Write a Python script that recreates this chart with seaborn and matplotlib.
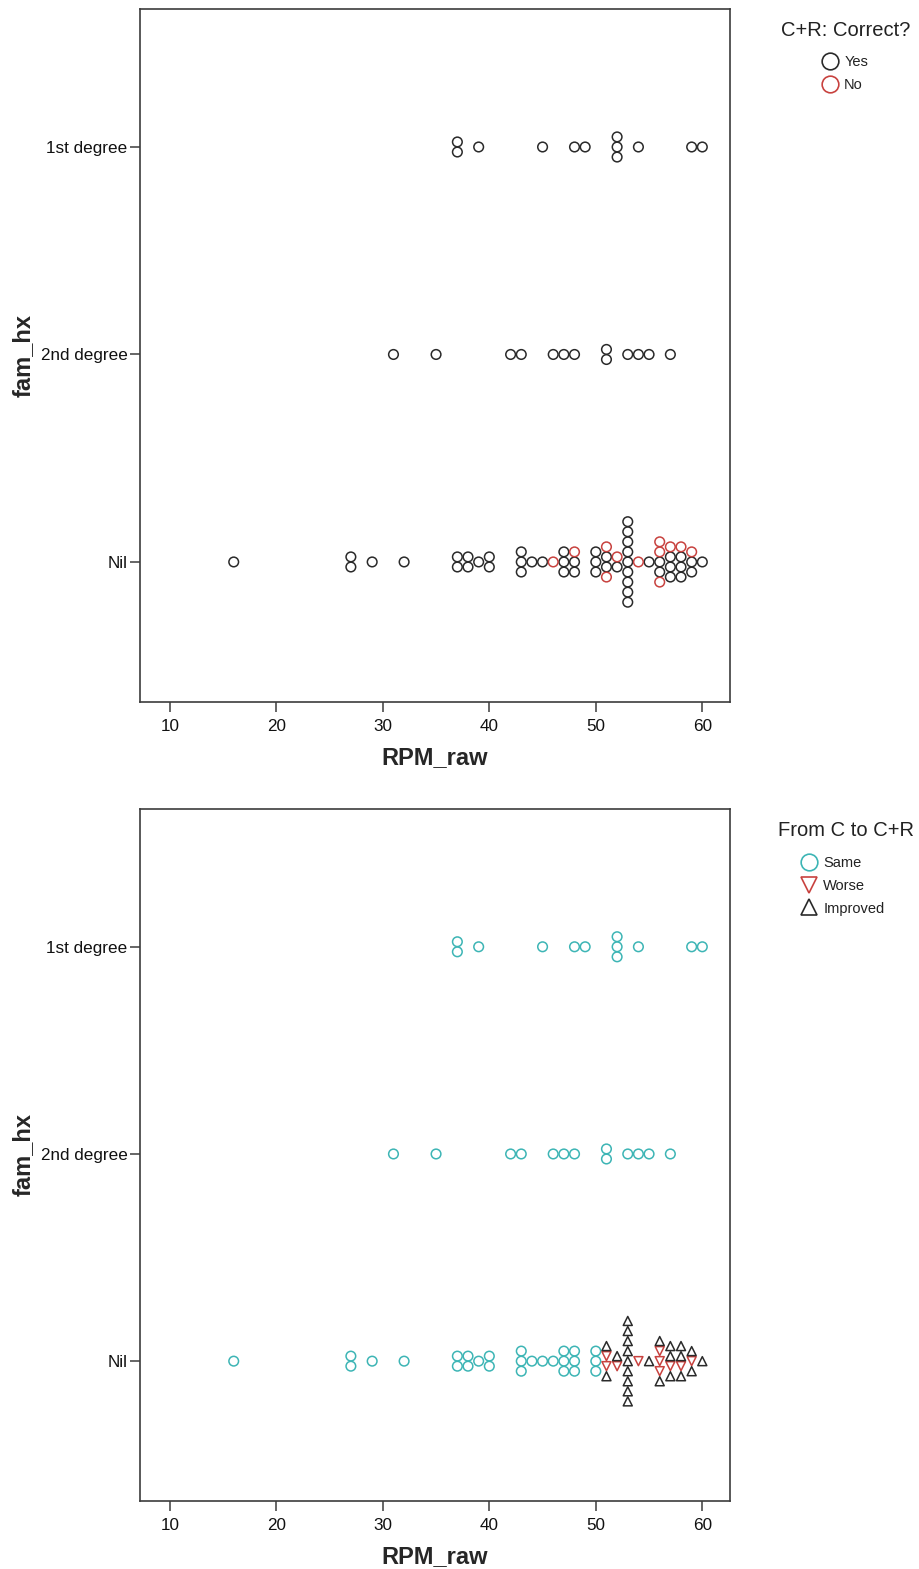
import numpy as np
import pandas as pd
import matplotlib
matplotlib.use("Agg")
import matplotlib.pyplot as plt
import seaborn as sns
from matplotlib.lines import Line2D

# ---- data -------------------------------------------------------------
categories = ["1st degree", "2nd degree", "Nil"]
x_ticks = [10, 20, 30, 40, 50, 60]

first_rpm = [37, 37, 39, 45, 48, 49, 52, 52, 52, 54, 59, 60]
second_rpm = [31, 35, 42, 43, 46, 47, 48, 51, 51, 53, 54, 55, 57]
nil_rpm = [16, 27, 27, 29, 32, 37, 37, 38, 38, 39, 40, 40, 43, 43, 43, 44,
           45, 46, 47, 47, 47, 48, 48, 48, 50, 50, 50, 51, 51, 51, 51, 52,
           52, 53, 53, 53, 53, 53, 53, 53, 53, 53, 54, 55, 56, 56, 56, 56,
           56, 57, 57, 57, 57, 58, 58, 58, 58, 59, 59, 59, 60]
nil_correct = ["Yes"] * 17 + ["No"] + ["Yes"] * 3 + ["Yes", "Yes", "No"] \
    + ["Yes"] * 3 + ["Yes", "Yes", "No", "No"] + ["Yes", "No"] + ["Yes"] * 9 \
    + ["No", "Yes"] + ["Yes", "Yes", "No", "No", "No"] \
    + ["Yes", "Yes", "Yes", "No"] + ["Yes", "Yes", "Yes", "No"] \
    + ["Yes", "Yes", "No"] + ["Yes"]
nil_change = ["Same"] * 27 + ["Improved", "Improved", "Worse", "Worse"] \
    + ["Improved", "Worse"] + ["Improved"] * 9 + ["Worse", "Improved"] \
    + ["Improved", "Improved", "Worse", "Worse", "Worse"] \
    + ["Improved", "Improved", "Improved", "Worse"] \
    + ["Improved", "Improved", "Improved", "Worse"] \
    + ["Improved", "Improved", "Worse"] + ["Improved"]

correct_levels = ["Yes", "No"]
change_levels = ["Same", "Worse", "Improved"]

df = pd.concat([
    pd.DataFrame({"fam_hx": "1st degree", "RPM_raw": first_rpm,
                  "correct": "Yes", "change": "Same"}),
    pd.DataFrame({"fam_hx": "2nd degree", "RPM_raw": second_rpm,
                  "correct": "Yes", "change": "Same"}),
    pd.DataFrame({"fam_hx": "Nil", "RPM_raw": nil_rpm,
                  "correct": nil_correct, "change": nil_change}),
], ignore_index=True)

# ---- stacked dot positions ---------------------------------------------
STEP = 0.0485  # vertical spacing between stacked dots (category units)


def stacked_y(frame, hue, order):
    rank = frame[hue].map({k: i for i, k in enumerate(order)})
    cat_pos = frame["fam_hx"].map({c: i for i, c in enumerate(categories)})
    y = np.zeros(len(frame))
    for _, idx in frame.groupby(["fam_hx", "RPM_raw"]).groups.items():
        ordered = rank.loc[idx].sort_values(kind="stable").index
        n = len(ordered)
        slots, k = ([0.0], 1.0) if n % 2 else ([], 0.5)
        while len(slots) < n:
            slots += [k, -k]
            k += 1
        for i, row in enumerate(ordered):
            y[frame.index.get_loc(row)] = cat_pos[row] + slots[i] * STEP
    return y


df["y_correct"] = stacked_y(df, "correct", correct_levels)
df["y_change"] = stacked_y(df, "change", change_levels)

# ---- style ---------------------------------------------------------------
sns.set_style("white")
plt.rcParams["font.family"] = ["Liberation Sans", "DejaVu Sans"]

BLACK = "#2a2a2a"
RED = "#c8423f"
TEAL = "#3db5b5"
SPINE = "#3c3c3c"

W, H = 920, 1569
fig = plt.figure(figsize=(W / 100, H / 100), dpi=100)


def make_axes(top, bottom, left=140, right=730):
    return fig.add_axes([left / W, 1 - bottom / H, (right - left) / W,
                         (bottom - top) / H])


ax1 = make_axes(9, 702)
ax2 = make_axes(809, 1501)

# (axes, y column, hue column, levels, legend title, title y, entries x, entries y)
panels = [
    (ax1, "y_correct", "correct",
     [("Yes", BLACK, "o"), ("No", RED, "o")], "C+R: Correct?", 30, 823, 55),
    (ax2, "y_change", "change",
     [("Same", TEAL, "o"), ("Worse", RED, "v"), ("Improved", BLACK, "^")],
     "From C to C+R", 830, 802, 856),
]

for ax, ycol, hue, levels, title, title_y, leg_x, leg_y in panels:
    for level, color, marker in levels:
        sub = df[df[hue] == level]
        size = 48 if marker == "o" else 42
        sns.scatterplot(data=sub, x="RPM_raw", y=ycol, ax=ax, color=color,
                        marker=marker, s=size, facecolors="none",
                        edgecolor=color, linewidth=1.1, legend=False,
                        zorder=3)
    ax.set_xlim(7.2, 62.6)
    ax.set_ylim(2.675, -0.665)
    ax.set_xticks(x_ticks)
    ax.set_yticks(range(len(categories)))
    ax.set_yticklabels(categories)
    ax.set_xlabel("RPM_raw", fontsize=17, fontweight="bold", labelpad=9)
    ax.set_ylabel("fam_hx", fontsize=17, fontweight="bold")
    ax.yaxis.set_label_coords(-0.178, 0.5)
    ax.tick_params(axis="both", which="major", length=7, width=1.1,
                   color=SPINE, labelsize=12.3, labelcolor="#111111",
                   direction="out", bottom=True, left=True)
    ax.tick_params(axis="x", pad=5)
    ax.tick_params(axis="y", pad=2)
    for sp in ax.spines.values():
        sp.set_visible(True)
        sp.set_color(SPINE)
        sp.set_linewidth(1.2)

    # legend: title drawn as text, entries stacked beneath it
    fig.text(846 / W, 1 - title_y / H, title, ha="center", va="center",
             fontsize=14.5, color="#222222")
    handles = [Line2D([], [], linestyle="none", marker=m, markersize=12,
                      markerfacecolor="none", markeredgecolor=c,
                      markeredgewidth=1.2) for _, c, m in levels]
    labels = [lv for lv, _, _ in levels]
    leg = fig.legend(handles, labels, loc="upper left",
                     bbox_to_anchor=(leg_x / W, 1 - leg_y / H),
                     frameon=False, fontsize=10.5,
                     handlelength=1.0, handletextpad=0.45,
                     labelspacing=0.6, borderpad=0, borderaxespad=0)
    for t in leg.get_texts():
        t.set_color("#222222")

fig.savefig("out.png", dpi=100, facecolor="white")
